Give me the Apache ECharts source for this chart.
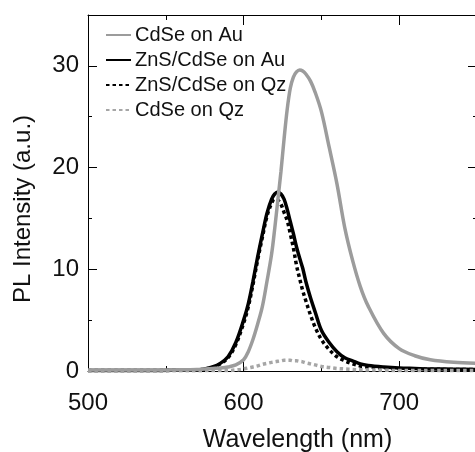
<!DOCTYPE html>
<html>
<head>
<meta charset="utf-8">
<script src="https://cdn.jsdelivr.net/npm/echarts@6/dist/echarts.min.js"></script>
<style>
  html, body { margin: 0; padding: 0; background: #fff; }
  #echart_pl { width: 475px; height: 452px; }
</style>
</head>
<body>
<div id="echart_pl"></div>
<script>
// wavelength (nm) shared by all four spectra
var wavelength = [500, 520, 540, 560, 570, 575, 580, 585, 590, 595, 600, 603, 606, 609, 612, 615, 618, 620, 622, 624, 626, 628, 630, 632, 634, 636, 638, 640, 643, 646, 650, 655, 660, 665, 670, 675, 680, 690, 700, 710, 720, 735, 750];

var cdseAu = [0.1, 0.1, 0.1, 0.12, 0.15, 0.2, 0.25, 0.3, 0.4, 0.6, 1.1, 1.9, 3.1, 4.6, 6.3, 8.8, 11.5, 14.0, 16.8, 19.6, 22.8, 25.7, 27.8, 28.9, 29.4, 29.6, 29.5, 29.2, 28.5, 27.4, 25.5, 22.0, 18.4, 14.1, 10.9, 8.3, 6.4, 3.7, 2.2, 1.5, 1.1, 0.85, 0.75];
var znsAu = [0.05, 0.05, 0.05, 0.08, 0.1, 0.2, 0.4, 0.75, 1.4, 2.8, 5.0, 6.6, 8.8, 11.2, 13.4, 15.5, 16.9, 17.4, 17.6, 17.4, 16.9, 15.9, 14.7, 13.5, 12.2, 11.1, 10.1, 8.8, 7.2, 5.8, 4.0, 2.8, 1.9, 1.3, 1.0, 0.7, 0.55, 0.4, 0.3, 0.25, 0.2, 0.18, 0.15];
var znsQz = [0.05, 0.05, 0.05, 0.08, 0.1, 0.2, 0.35, 0.7, 1.3, 2.6, 4.7, 6.3, 8.5, 10.9, 13.1, 15.2, 16.5, 16.9, 16.8, 16.4, 15.6, 14.8, 13.5, 12.1, 10.4, 9.1, 7.9, 6.9, 5.5, 4.3, 3.1, 2.1, 1.4, 1.0, 0.7, 0.5, 0.4, 0.3, 0.22, 0.2, 0.18, 0.15, 0.15];
var cdseQz = [0, 0, 0, 0.02, 0.03, 0.04, 0.05, 0.05, 0.05, 0.1, 0.2, 0.3, 0.4, 0.5, 0.65, 0.75, 0.85, 0.9, 0.95, 1.0, 1.05, 1.05, 1.05, 1.0, 1.0, 0.95, 0.9, 0.8, 0.7, 0.6, 0.45, 0.35, 0.25, 0.2, 0.15, 0.12, 0.1, 0.08, 0.05, 0.05, 0.05, 0.05, 0.05];

var legendNames = ['CdSe on Au', 'ZnS/CdSe on Au', 'ZnS/CdSe on Qz', 'CdSe on Qz'];

var FONT = '"Liberation Sans", Arial, sans-serif';
var GRAY = '#9c9c9c';

function pairs(ys) {
    var out = [];
    for (var i = 0; i < wavelength.length; i++) {
        out.push([wavelength[i], ys[i]]);
    }
    return out;
}

// one axis per tick length, so the long/short ticks can be mirrored on every side
function xAx(pos, step, len, main) {
    return {
        type: 'value', position: pos, min: 500, max: 750, interval: step,
        axisLine: { show: main, onZero: false, lineStyle: { color: '#000', width: 1 } },
        axisTick: { show: true, inside: true, length: len, lineStyle: { color: '#000', width: 1 } },
        axisLabel: { show: false },
        splitLine: { show: false }
    };
}
function yAx(pos, step, len, main) {
    return {
        type: 'value', position: pos, min: 0, max: 35, interval: step,
        axisLine: { show: main, onZero: false, lineStyle: { color: '#000', width: 1 } },
        axisTick: { show: true, inside: true, length: len, lineStyle: { color: '#000', width: 1 } },
        axisLabel: { show: false },
        splitLine: { show: false }
    };
}

var xMain = xAx('bottom', 50, 5, true);
xMain.axisLabel = {
    show: true, margin: 20, color: '#111', fontSize: 24, fontFamily: FONT,
    formatter: function(v) { return v % 100 === 0 ? String(v) : ''; }
};
xMain.name = 'Wavelength (nm)';
xMain.nameLocation = 'middle';
xMain.nameGap = 57;
xMain.nameTextStyle = { color: '#111', fontSize: 25, fontFamily: FONT, padding: [0, 0, 0, 30] };

var yMain = yAx('left', 5, 4, true);
yMain.axisLabel = {
    show: true, margin: 9, color: '#111', fontSize: 24, fontFamily: FONT,
    formatter: function(v) { return v % 10 === 0 ? String(v) : ''; }
};
yMain.name = 'PL Intensity (a.u.)';
yMain.nameLocation = 'middle';
yMain.nameGap = 53;
yMain.nameTextStyle = { color: '#111', fontSize: 24, fontFamily: FONT, padding: [0, 32, 0, 0] };

function lineSeries(name, ys, color, dash, z) {
    return {
        name: name,
        type: 'line',
        xAxisIndex: 0,
        yAxisIndex: 0,
        data: pairs(ys),
        symbol: 'none',
        smooth: 0.35,
        z: z,
        lineStyle: { color: color, width: 3.5, type: dash, cap: 'butt' },
        itemStyle: { color: color }
    };
}

var pl_Chart = echarts.init(document.getElementById('echart_pl'), null, { renderer: 'canvas' });
var option = {
    animation: false,
    backgroundColor: '#fff',
    // fixed plot box; labels may sit outside it
    grid: { left: 88, top: 15, right: -2, bottom: 81, containLabel: false, outerBoundsMode: 'none' },
    legend: {
        data: legendNames,
        orient: 'vertical',
        left: 105,
        top: 25,
        padding: 0,
        itemGap: 5,
        itemWidth: 25,
        itemHeight: 14,
        // hide the round marker ECharts puts in the middle of a line icon
        itemStyle: { opacity: 0 },
        textStyle: { color: '#111', fontSize: 20, fontFamily: FONT, padding: [0, 0, 0, -1] }
    },
    xAxis: [xMain, xAx('bottom', 100, 10, false), xAx('top', 50, 5, true), xAx('top', 100, 10, false)],
    yAxis: [yMain, yAx('left', 10, 9, false), yAx('right', 5, 4, true), yAx('right', 10, 9, false)],
    series: [
        lineSeries('ZnS/CdSe on Qz', znsQz, '#000', [3.5, 3], 2),
        lineSeries('ZnS/CdSe on Au', znsAu, '#000', 'solid', 3),
        lineSeries('CdSe on Qz', cdseQz, '#a6a6a6', [3.5, 3], 4),
        lineSeries('CdSe on Au', cdseAu, GRAY, 'solid', 5)
    ]
};
pl_Chart.setOption(option);
</script>
</body>
</html>
